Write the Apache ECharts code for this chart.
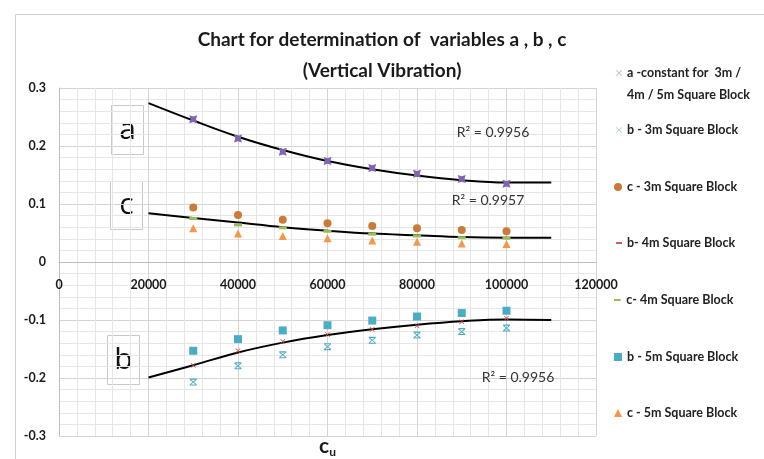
<!DOCTYPE html>
<html>
<head>
<meta charset="utf-8">
<title>Chart for determination of variables a, b, c</title>
<script src="https://cdn.jsdelivr.net/npm/echarts@6/dist/echarts.min.js"></script>
<style>
  html, body { margin: 0; padding: 0; background: #ffffff; }
  #chart { width: 764px; height: 459px; }
</style>
</head>
<body>
<div id="chart"></div>
<script>
// Undrained shear strength values (x axis)
var cu = [30000, 40000, 50000, 60000, 70000, 80000, 90000, 100000];

// Measured variables per block size
var aConst = [0.246, 0.213, 0.190, 0.174, 0.162, 0.152, 0.143, 0.135];
var b3m = [-0.207, -0.179, -0.160, -0.146, -0.135, -0.126, -0.120, -0.114];
var c3m = [0.094, 0.081, 0.073, 0.067, 0.062, 0.058, 0.055, 0.053];
var b4m = [-0.178, -0.153, -0.137, -0.125, -0.116, -0.110, -0.103, -0.097];
var c4m = [0.075, 0.064, 0.059, 0.053, 0.048, 0.045, 0.042, 0.041];
var b5m = [-0.153, -0.133, -0.118, -0.109, -0.101, -0.094, -0.088, -0.084];
var c5m = [0.058, 0.049, 0.045, 0.041, 0.037, 0.035, 0.032, 0.031];

// Polynomial trend curves, sampled along cu
var trendCu = [20000, 30000, 40000, 50000, 60000, 70000, 80000, 90000, 100000, 110000];
var aTrend = [0.274, 0.244, 0.216, 0.193, 0.174, 0.160, 0.149, 0.141, 0.137, 0.137];
var cTrend = [0.084, 0.076, 0.068, 0.060, 0.054, 0.049, 0.046, 0.043, 0.042, 0.042];
var bTrend = [-0.199, -0.178, -0.156, -0.139, -0.126, -0.116, -0.108, -0.102, -0.099, -0.100];

// Goodness of fit for each trend
var r2Labels = ['R\u00B2 = 0.9956', 'R\u00B2 = 0.9957', 'R\u00B2 = 0.9956'];

var seriesNames = [
  'a -constant for  3m / 4m / 5m Square Block',
  'b - 3m Square Block',
  'c - 3m Square Block',
  'b- 4m Square Block',
  'c- 4m Square Block',
  'b - 5m Square Block',
  'c - 5m Square Block'
];

var FONT = "Lato, 'Open Sans', 'DejaVu Sans', sans-serif";

// marker shapes
var STAR = 'path://M0,0 L5,1.6 L10,0 L8.4,5 L10,10 L5,8.4 L0,10 L1.6,5 Z';
var CROSS = 'path://M1,0 L5,4 L9,0 L10,1 L6,5 L10,9 L9,10 L5,6 L1,10 L0,9 L4,5 L0,1 Z';
var HOURGLASS = 'path://M0,0 L10,0 L10,1.6 L0,1.6 Z M0,8.4 L10,8.4 L10,10 L0,10 Z M1.2,1 L5,4.2 L8.8,1 L9.8,2 L6,5 L9.8,8 L8.8,9 L5,5.8 L1.2,9 L0.2,8 L4,5 L0.2,2 Z';
var DASH = 'path://M0,0 L10,0 L10,3 L0,3 Z';

// plot frame (pixels)
var GRID_TOP = 88, GRID_BOTTOM = 23, GRID_LEFT = 59, GRID_RIGHT = 168;
var Y_MIN = -0.3, Y_MAX = 0.3;
// lift the x axis from the bottom edge up to the y = 0 line
var xAxisLift = -(459 - GRID_TOP - GRID_BOTTOM) * (0 - Y_MIN) / (Y_MAX - Y_MIN);

function pairs(xs, ys) {
  return xs.map(function (x, i) { return [x, ys[i]]; });
}

function scatter(name, ys, color, symbol, size) {
  return {
    name: name,
    type: 'scatter',
    data: pairs(cu, ys),
    symbol: symbol,
    symbolSize: size,
    itemStyle: { color: color, opacity: 1 },
    z: 3
  };
}

function trend(ys) {
  return {
    type: 'line',
    data: pairs(trendCu, ys),
    showSymbol: false,
    symbol: 'none',
    smooth: 0.4,
    lineStyle: { color: '#000000', width: 2 },
    silent: true,
    z: 2
  };
}

var legendTops = [40, 122, 179, 235, 292, 349, 405];
var legendIcons = [
  { icon: CROSS, w: 6, h: 6, color: '#b9b3cc' },
  { icon: CROSS, w: 6, h: 6, color: '#9fd3e2' },
  { icon: 'circle', w: 8, h: 8, color: '#cc7a3a' },
  { icon: DASH, w: 6, h: 2, color: '#c0504d' },
  { icon: DASH, w: 8, h: 2, color: '#9bbb59' },
  { icon: 'rect', w: 8, h: 8, color: '#4bacc6' },
  { icon: 'triangle', w: 8, h: 8, color: '#f79646' }
];

var legends = seriesNames.map(function (name, i) {
  var ic = legendIcons[i];
  var first = i === 0;
  return {
    orient: 'vertical',
    left: 627 - 5 - ic.w,
    top: legendTops[i],
    padding: 0,
    itemWidth: ic.w,
    itemHeight: ic.h,
    selectedMode: false,
    data: [{ name: name, icon: ic.icon, itemStyle: { color: ic.color } }],
    formatter: function (n) {
      // leading blank line keeps the icon level with the first text line
      return first ? '\na -constant for  3m /\n4m / 5m Square Block' : n;
    },
    textStyle: {
      fontFamily: FONT,
      fontWeight: 'bold',
      fontSize: 12.5,
      color: '#222222',
      lineHeight: first ? 22 : 16
    }
  };
});

function noteBox(letter, x, y, w, h) {
  return {
    type: 'group',
    left: x,
    top: y,
    children: [
      {
        type: 'rect',
        shape: { x: 0, y: 0, width: w, height: h },
        style: { fill: '#ffffff', stroke: '#c8c8c8', lineWidth: 1 }
      },
      {
        type: 'text',
        x: w / 2,
        y: h / 2,
        style: {
          text: letter,
          fontFamily: "'Open Sans', Lato, sans-serif",
          fontSize: 30,
          fill: '#111111',
          align: 'center',
          verticalAlign: 'middle'
        }
      }
    ]
  };
}

function r2Text(text, cx, cy) {
  return {
    type: 'text',
    x: cx,
    y: cy,
    style: {
      text: text,
      fontFamily: FONT,
      fontSize: 14,
      fill: '#333333',
      align: 'center',
      verticalAlign: 'middle'
    },
    z: 10
  };
}

var chart = echarts.init(document.getElementById('chart'), null, { renderer: 'canvas' });

var option = {
  backgroundColor: '#ffffff',
  animation: false,
  title: {
    text: 'Chart for determination of  variables a , b , c\n(Vertical Vibration)',
    left: 'center',
    top: 19,
    textStyle: {
      fontFamily: FONT,
      fontWeight: 'bold',
      fontSize: 19,
      lineHeight: 31,
      color: '#1a1a1a'
    }
  },
  legend: legends,
  grid: {
    left: GRID_LEFT, right: GRID_RIGHT, top: GRID_TOP, bottom: GRID_BOTTOM,
    containLabel: false, outerBoundsMode: 'none'
  },
  xAxis: {
    type: 'value',
    min: 0,
    max: 120000,
    interval: 20000,
    position: 'bottom',
    offset: xAxisLift,
    name: '{c|c}{u|u}',
    nameLocation: 'middle',
    nameGap: 172,
    nameTextStyle: {
      rich: {
        c: { fontFamily: FONT, fontWeight: 'bold', fontSize: 21, color: '#1a1a1a' },
        u: { fontFamily: FONT, fontWeight: 'bold', fontSize: 12, color: '#1a1a1a', padding: [12, 0, 0, 0] }
      }
    },
    axisLine: { onZero: false, lineStyle: { color: '#bdbdbd', width: 1 } },
    axisTick: { show: false },
    axisLabel: {
      margin: 16,
      fontFamily: FONT,
      fontWeight: 'bold',
      fontSize: 12.5,
      color: '#1a1a1a',
      formatter: function (v) { return String(v); }
    },
    splitLine: { show: true, lineStyle: { color: '#d4d4d4', width: 1 } },
    minorTick: { show: false, splitNumber: 5 },
    minorSplitLine: { show: true, lineStyle: { color: '#e6e6e6', width: 1 } }
  },
  yAxis: {
    type: 'value',
    min: Y_MIN,
    max: Y_MAX,
    interval: 0.1,
    axisLine: { show: true, onZero: false, lineStyle: { color: '#bdbdbd', width: 1 } },
    axisTick: { show: false },
    axisLabel: {
      margin: 13,
      fontFamily: FONT,
      fontWeight: 'bold',
      fontSize: 12.5,
      color: '#1a1a1a',
      formatter: function (v) { return String(Math.round(v * 10) / 10); }
    },
    splitLine: { show: true, lineStyle: { color: '#d4d4d4', width: 1 } },
    minorTick: { show: false, splitNumber: 5 },
    minorSplitLine: { show: true, lineStyle: { color: '#e6e6e6', width: 1 } }
  },
  series: [
    trend(aTrend),
    trend(cTrend),
    trend(bTrend),
    scatter(seriesNames[0], aConst, '#8064b4', STAR, 8),
    scatter(seriesNames[1], b3m, '#4bacc6', HOURGLASS, 7),
    scatter(seriesNames[2], c3m, '#cc7a3a', 'circle', 8),
    scatter(seriesNames[3], b4m, '#c0504d', CROSS, 5),
    scatter(seriesNames[4], c4m, '#9bbb59', DASH, [8, 3]),
    scatter(seriesNames[5], b5m, '#4bacc6', 'rect', 8),
    scatter(seriesNames[6], c5m, '#f79646', 'triangle', 8)
  ],
  graphic: [
    {
      type: 'rect',
      left: 13,
      top: 12,
      shape: { x: 0, y: 0, width: 800, height: 500 },
      style: { fill: 'none', stroke: '#d0d0d0', lineWidth: 1 },
      silent: true,
      z: -10
    },
    noteBox('a', 111, 105, 32, 49),
    noteBox('c', 110, 181, 32, 48),
    noteBox('b', 107, 335, 32, 49),
    r2Text(r2Labels[0], 493, 132),
    r2Text(r2Labels[1], 488, 200),
    r2Text(r2Labels[2], 518, 377)
  ]
};

chart.setOption(option);
</script>
</body>
</html>
